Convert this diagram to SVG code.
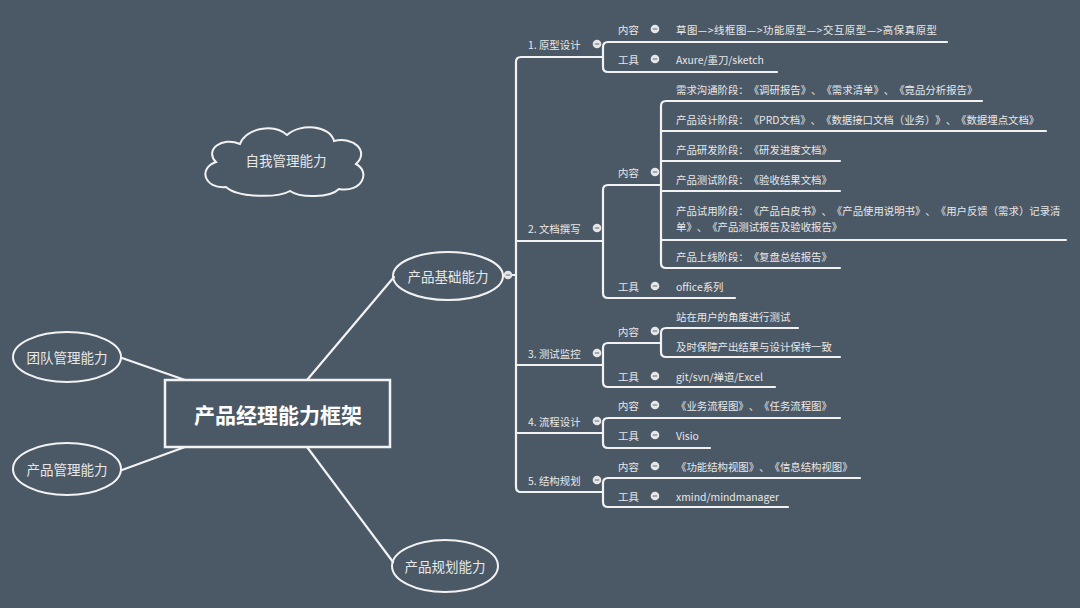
<svg xmlns="http://www.w3.org/2000/svg" width="1080" height="608" viewBox="0 0 1080 608">
<style>
text{text-spacing-trim:space-all}
.t{font-family:"Noto Sans CJK SC","Noto Sans",sans-serif;font-size:10.4px;fill:#e8e8e8;dominant-baseline:central}
.e{font-family:"Noto Sans CJK SC","Noto Sans",sans-serif;font-size:13.5px;fill:#e8e8e8;dominant-baseline:central;text-anchor:middle}
.ln{fill:none;stroke:#f2f2f2;stroke-width:2.2;stroke-linecap:round;stroke-linejoin:round}
.sh{fill:none;stroke:#f2f2f2;stroke-width:2}
.tg{fill:#e6e6e6}
.tm{stroke:#7d8894;stroke-width:1.3}
</style>
<defs>
<g id="tog"><circle r="4.3" class="tg"/><line x1="-2.2" x2="2.2" y1="0" y2="0" class="tm"/></g>
</defs>
<rect width="1080" height="608" fill="#4b5967"/>

<g id="connectors">
<line class="ln" x1="307" y1="380" x2="394" y2="277"/>
<line class="ln" x1="122" y1="358" x2="185" y2="380"/>
<line class="ln" x1="122" y1="470" x2="185" y2="447"/>
<line class="ln" x1="307" y1="447" x2="393" y2="562"/>
<line class="ln" x1="503" y1="275" x2="516" y2="275"/>
<path class="ln" d="M603 57 H521 Q516 57 516 62 V487 Q516 492 521 492 H603"/>
<path class="ln" d="M516 241 H603 M516 365 H603 M516 433 H603"/>
<path class="ln" d="M947 42 H608 Q603 42 603 47 V67 Q603 72 608 72 H777"/>
<path class="ln" d="M661 185 H608 Q603 185 603 190 V293 Q603 298 608 298 H735"/>
<path class="ln" d="M982 101 H666 Q661 101 661 106 V263 Q661 268 666 268 H840"/>
<path class="ln" d="M661 131 H1046 M661 161 H840 M661 191 H840 M661 240 H1066"/>
<path class="ln" d="M661 343 H608 Q603 343 603 348 V382 Q603 387 608 387 H775"/>
<path class="ln" d="M798 328 H666 Q661 328 661 333 V352 Q661 357 666 357 H840"/>
<path class="ln" d="M840 418 H608 Q603 418 603 423 V443 Q603 448 608 448 H710"/>
<path class="ln" d="M860 478 H608 Q603 478 603 483 V502 Q603 507 608 507 H788"/>
</g>

<g id="center">
<rect x="165" y="380" width="225" height="67" fill="#4b5967" stroke="#f2f2f2" stroke-width="2.5"/>
<text x="278" y="414" font-family="'Noto Sans CJK SC','Noto Sans',sans-serif" font-size="21" font-weight="bold" fill="#ffffff" text-anchor="middle" dominant-baseline="central">产品经理能力框架</text>
</g>

<g id="self">
<path class="sh" d="M226 187 C204 189 198 168 216 162 C204 150 222 136 240 144 C246 128 274 123 287 135 C300 123 330 125 334 141 C353 136 370 151 356 164 C371 172 362 193 339 189 C330 198 300 198 290 191 C278 198 238 198 226 187 Z"/>
<text class="e" x="286" y="160" font-size="16.5">自我管理能力</text>
</g>

<g id="team">
<ellipse class="sh" cx="67" cy="357" rx="54" ry="25"/>
<text class="e" x="67" y="357">团队管理能力</text>
</g>
<g id="pm">
<ellipse class="sh" cx="67" cy="469" rx="54" ry="26"/>
<text class="e" x="67" y="469">产品管理能力</text>
</g>
<g id="plan">
<ellipse class="sh" cx="445" cy="566" rx="53" ry="26"/>
<text class="e" x="445" y="566">产品规划能力</text>
</g>
<g id="basic">
<ellipse class="sh" cx="448" cy="276" rx="55" ry="24"/>
<text class="e" x="448" y="276">产品基础能力</text>
<use href="#tog" x="508" y="275"/>
</g>

<g id="b1">
<text class="t" x="528" y="44">1. 原型设计</text>
<use href="#tog" x="597" y="44"/>
<text class="t" x="618" y="29">内容</text>
<use href="#tog" x="655" y="29"/>
<text class="t" x="676" y="29" font-size="10.8" textLength="261" lengthAdjust="spacing">草图—&gt;线框图—&gt;功能原型—&gt;交互原型—&gt;高保真原型</text>
<text class="t" x="618" y="59">工具</text>
<use href="#tog" x="655" y="59"/>
<text class="t" x="676" y="59">Axure/墨刀/sketch</text>
</g>

<g id="b2">
<text class="t" x="528" y="228">2. 文档撰写</text>
<use href="#tog" x="597" y="228"/>
<text class="t" x="618" y="172">内容</text>
<use href="#tog" x="655" y="172"/>
<text class="t" x="676" y="89">需求沟通阶段：《调研报告》、《需求清单》、《竟品分析报告》</text>
<text class="t" x="676" y="119">产品设计阶段：《PRD文档》、《数据接口文档（业务）》、《数据埋点文档》</text>
<text class="t" x="676" y="149">产品研发阶段：《研发进度文档》</text>
<text class="t" x="676" y="179">产品测试阶段：《验收结果文档》</text>
<text class="t" x="676" y="210" font-size="10.2">产品试用阶段：《产品白皮书》、《产品使用说明书》、《用户反馈（需求）记录清</text>
<text class="t" x="676" y="226" font-size="10.2">单》、《产品测试报告及验收报告》</text>
<text class="t" x="676" y="256">产品上线阶段：《复盘总结报告》</text>
<text class="t" x="618" y="286">工具</text>
<use href="#tog" x="655" y="286"/>
<text class="t" x="676" y="286">office系列</text>
</g>

<g id="b3">
<text class="t" x="528" y="353">3. 测试监控</text>
<use href="#tog" x="597" y="353"/>
<text class="t" x="618" y="331">内容</text>
<use href="#tog" x="655" y="331"/>
<text class="t" x="676" y="316">站在用户的角度进行测试</text>
<text class="t" x="676" y="346">及时保障产出结果与设计保持一致</text>
<text class="t" x="618" y="376">工具</text>
<use href="#tog" x="655" y="376"/>
<text class="t" x="676" y="376">git/svn/禅道/Excel</text>
</g>

<g id="b4">
<text class="t" x="528" y="421">4. 流程设计</text>
<use href="#tog" x="597" y="421"/>
<text class="t" x="618" y="405">内容</text>
<use href="#tog" x="655" y="405"/>
<text class="t" x="676" y="405">《业务流程图》、《任务流程图》</text>
<text class="t" x="618" y="435">工具</text>
<use href="#tog" x="655" y="435"/>
<text class="t" x="676" y="435">Visio</text>
</g>

<g id="b5">
<text class="t" x="528" y="480">5. 结构规划</text>
<use href="#tog" x="597" y="480"/>
<text class="t" x="618" y="466">内容</text>
<use href="#tog" x="655" y="466"/>
<text class="t" x="676" y="466">《功能结构视图》、《信息结构视图》</text>
<text class="t" x="618" y="496">工具</text>
<use href="#tog" x="655" y="496"/>
<text class="t" x="676" y="496">xmind/mindmanager</text>
</g>
</svg>
